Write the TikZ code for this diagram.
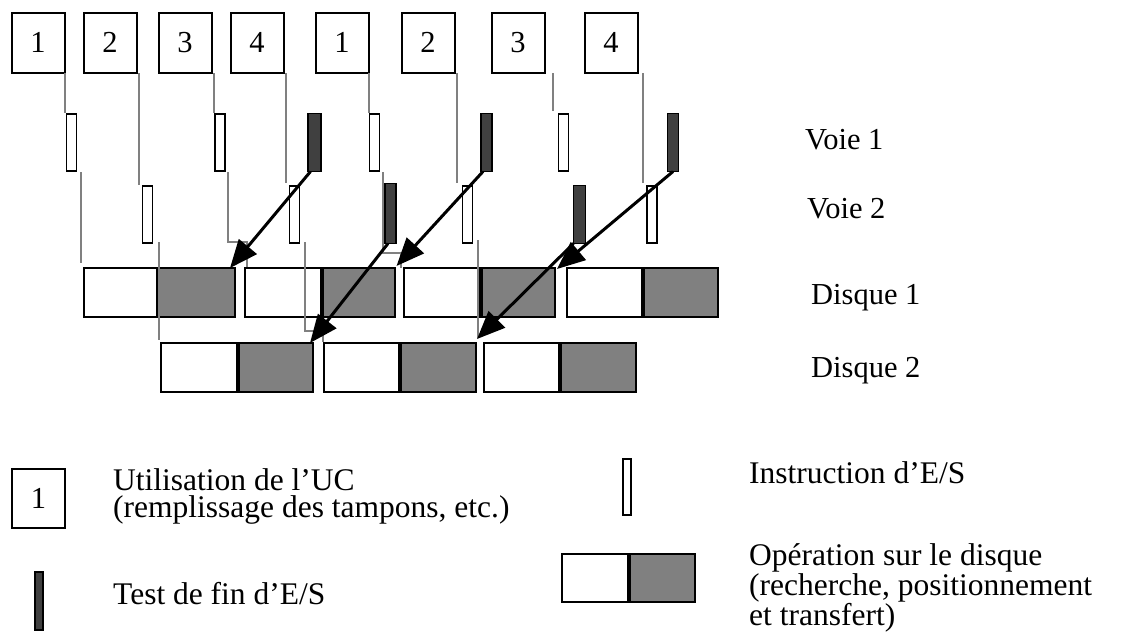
\documentclass[tikz,border=0pt]{standalone}
\usepackage{fontspec}
\setmainfont{Liberation Serif}
\usetikzlibrary{arrows.meta}
\definecolor{darkbar}{RGB}{64,64,64}
\definecolor{midgray}{RGB}{128,128,128}
\begin{document}
\begin{tikzpicture}[x=1pt,y=-1pt,
  cpu/.style={draw, line width=2pt, fill=white, minimum width=53pt, minimum height=60pt, inner sep=0pt, outer sep=0pt, font=\fontsize{30.5}{30.5}\selectfont},
  iobar/.style={draw, line width=1.5pt, fill=white, minimum width=10pt, minimum height=57pt, inner sep=0pt, outer sep=0pt},
  tstbar/.style={draw, line width=1.5pt, fill=darkbar, minimum width=11pt, minimum height=58pt, inner sep=0pt, outer sep=0pt},
  dw/.style={draw, line width=2pt, fill=white, minimum height=49pt, inner sep=0pt, outer sep=0pt},
  dg/.style={dw, fill=midgray},
  link/.style={draw=midgray, line width=2pt},
  arr/.style={line width=3pt, -{Triangle[length=28pt,width=23pt]}},
  lbl/.style={anchor=base west, inner sep=0pt, font=\fontsize{30.5}{30.5}\selectfont},
  leg/.style={anchor=base west, inner sep=0pt, align=left, font=\fontsize{31.5}{26.5}\selectfont}
]
\useasboundingbox (0,0) rectangle (1130,641);

% CPU boxes
\node[cpu] (b1) at (38,42.5) {1};
\node[cpu] (b2) at (110,42.5) {2};
\node[cpu] (b3) at (185,42.5) {\raisebox{-3pt}{3}};
\node[cpu] (b4) at (257,42.5) {4};
\node[cpu] (b5) at (342,42.5) {1};
\node[cpu] (b6) at (428,42.5) {\raisebox{-2pt}{2}};
\node[cpu] (b7) at (518,42.5) {\raisebox{-3pt}{3}};
\node[cpu] (b8) at (611,42.5) {4};

% Voie 1 bars
\node[iobar] (i1) at (71.5,142.5) {};
\node[iobar] (i3) at (220,142.5) {};
\node[tstbar, minimum width=13pt] (t1) at (314.5,142.5) {};
\node[iobar] (i5) at (374.5,142.5) {};
\node[tstbar] (t3) at (486.5,142.5) {};
\node[iobar] (i7) at (563.5,142.5) {};
\node[tstbar] (t5) at (673,142.5) {};

% Voie 2 bars
\node[iobar] (i2) at (147.5,214.5) {};
\node[iobar] (i4) at (294.5,214.5) {};
\node[tstbar, minimum height=60pt] (t2) at (390.5,213.5) {};
\node[iobar] (i6) at (467.5,214.5) {};
\node[tstbar, minimum width=12pt] (t4) at (579.5,214.5) {};
\node[iobar] (i8) at (652,214.5) {};

% Disque 1
\node[dw, minimum width=73pt] (a1w1) at (120.5,292.5) {};
\node[dg, minimum width=76pt] (a1g1) at (197,292.5) {};
\node[dw, minimum width=76pt] (a1w2) at (283,292.5) {};
\node[dg, minimum width=72pt] (a1g2) at (359,292.5) {};
\node[dw, minimum width=76pt] (a1w3) at (442,292.5) {};
\node[dg, minimum width=73pt] (a1g3) at (518.5,292.5) {};
\node[dw, minimum width=75pt] (a1w4) at (604.5,292.5) {};
\node[dg, minimum width=74pt] (a1g4) at (681,292.5) {};

% Disque 2
\node[dw, minimum width=76pt] (a2w1) at (199,367.5) {};
\node[dg, minimum width=74pt] (a2g1) at (276,367.5) {};
\node[dw, minimum width=75pt] (a2w2) at (361.5,367.5) {};
\node[dg, minimum width=75pt] (a2g2) at (438.5,367.5) {};
\node[dw, minimum width=75pt] (a2w3) at (521.5,367.5) {};
\node[dg, minimum width=75pt] (a2g3) at (598.5,367.5) {};

% gray connecting lines
\draw[link] (65,73) -- (65,113);
\draw[link] (81,172) -- (81,263);
\draw[link] (139,73) -- (139,185);
\draw[link] (159,242) -- (159,340);
\draw[link] (214,73) -- (214,113);
\draw[link] (228,172) -- (228,242) -- (247,242) -- (247,267);
\draw[link] (286,73) -- (286,183);
\draw[link] (305,242) -- (305,331) -- (323,331) -- (323,342);
\draw[link] (369,73) -- (369,113);
\draw[link] (383,172) -- (383,253) -- (401,253) -- (401,268);
\draw[link] (457,73) -- (457,183);
\draw[link] (478,240) -- (478,338);
\draw[link] (553,73) -- (553,111);
\draw[link] (643,73) -- (643,183);

% arrows
\draw[arr] ([xshift=-4pt]t1.south) -- ([xshift=-5pt]a1g1.north east);
\draw[arr] ([xshift=-2.5pt]t2.south) -- ([xshift=-3pt]a2g1.north east);
\draw[arr] ([xshift=-3.5pt]t3.south) -- ([xshift=1.5pt,yshift=2pt]a1g2.north east);
\draw[arr] (t4.south west) -- ([xshift=1pt,yshift=4pt]a2g2.north east);
\draw[arr] (t5.south) -- ([xshift=2pt,yshift=-1pt]a1g3.north east);

% row labels
\node[lbl] (lv1) at (805,149) {Voie 1};
\node[lbl] (lv2) at (807,218) {Voie 2};
\node[lbl] (ld1) at (811,304) {Disque 1};
\node[lbl] (ld2) at (811,377) {Disque 2};

% legend
\node[cpu, minimum height=59pt] (kb) at (38.5,498.5) {1};
\node[leg] (kt1) at (113,517) {Utilisation de l’UC\\(remplissage des tampons, etc.)};
\node[tstbar, minimum width=8pt, minimum height=58pt] (kd) at (39,601) {};
\node[leg] (kt3) at (113,604) {Test de fin d’E/S};
\node[iobar, minimum width=8pt, minimum height=56pt] (ki) at (627,487) {};
\node[leg] (kt4) at (749,483) {Instruction d’E/S};
\node[dw, minimum width=66pt, minimum height=48pt] (kw) at (595,578) {};
\node[dg, minimum width=65pt, minimum height=48pt] (kg) at (662.5,578) {};
\node[leg] (kt5) at (749,625) {Opération sur le disque\\(recherche, positionnement\\et transfert)};
\end{tikzpicture}
\end{document}
